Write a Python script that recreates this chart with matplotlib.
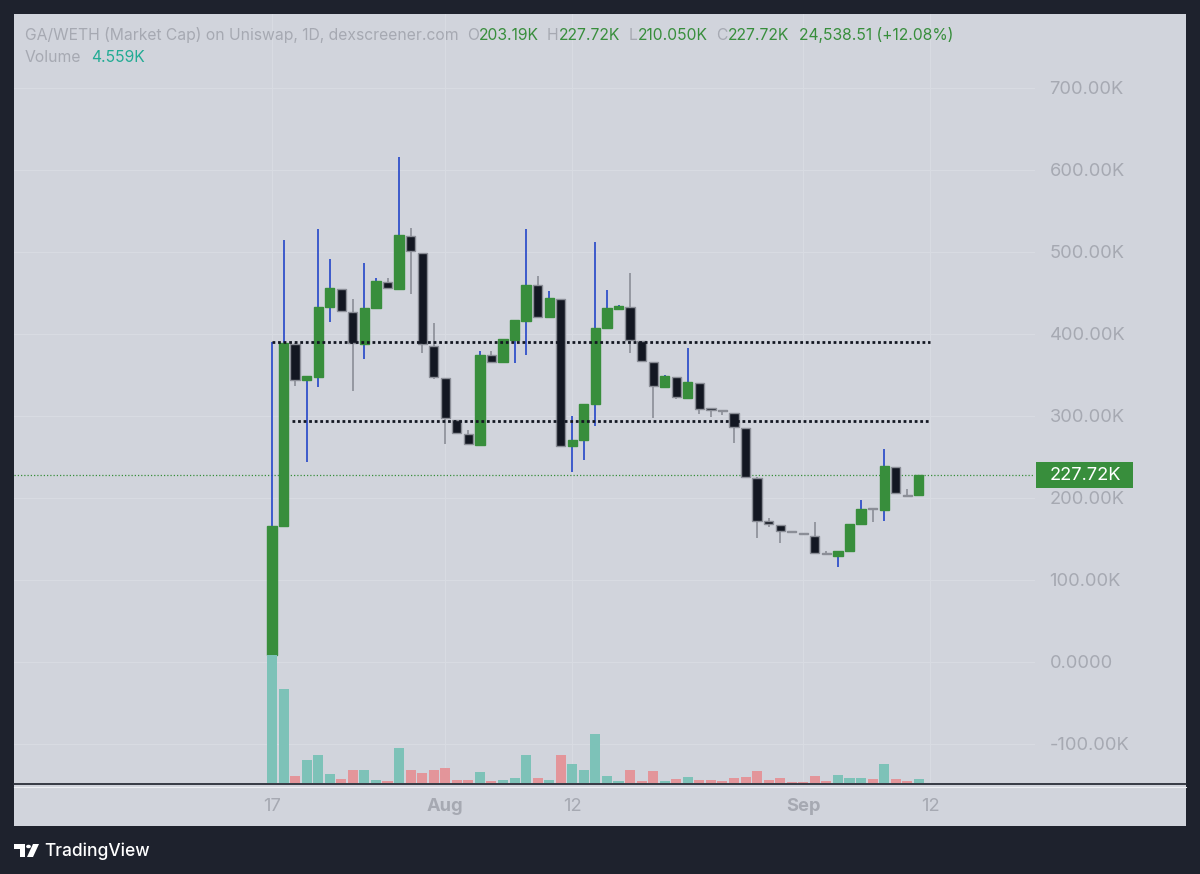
import matplotlib
matplotlib.use('Agg')
import matplotlib.pyplot as plt
from matplotlib.patches import Rectangle, Circle, Polygon
from matplotlib.lines import Line2D

# ---------------- data (values in thousands, market cap) ----------------
day_labels_idx = [0, 15, 26, 46, 57]
day_labels = ['17', 'Aug', '12', 'Sep', '12']

opens = [8.5, 166.0, 387.8, 343.9, 348.0, 433.3, 455.2, 426.8, 387.8, 432.0,
         463.8, 454.5, 519.9, 498.4, 385.7, 346.7, 295.1, 277.7, 264.6, 374.0,
         365.5, 392.7, 416.2, 459.4, 420.4, 443.0, 263.4, 270.7, 315.0, 407.0,
         431.0, 432.6, 391.5, 365.5, 335.7, 347.9, 322.3, 339.9, 308.2, 306.7,
         303.3, 285.7, 224.8, 172.0, 167.0, 158.2, 155.9, 154.0, 131.5, 129.6,
         135.4, 167.9, 186.8, 185.4, 238.2, 203.0, 203.19]
highs = [390.2, 514.6, 388.5, 349.0, 527.7, 491.5, 455.2, 442.3, 487.0, 468.0,
         468.0, 616.2, 529.6, 498.4, 413.8, 346.7, 295.1, 283.0, 379.3, 379.0,
         393.5, 416.7, 527.7, 470.7, 452.4, 443.0, 300.0, 315.0, 512.6, 453.7,
         435.0, 474.0, 391.5, 365.5, 350.6, 347.9, 383.3, 339.9, 308.6, 307.0,
         303.3, 285.7, 226.0, 175.2, 167.0, 158.4, 156.1, 171.1, 135.4, 135.4,
         168.3, 197.6, 186.9, 259.8, 238.2, 210.6, 227.72]
lows = [8.5, 166.0, 336.6, 244.0, 335.0, 414.3, 428.4, 330.9, 369.5, 432.0,
        455.7, 454.5, 448.8, 377.2, 344.8, 265.9, 278.9, 265.5, 264.6, 366.2,
        365.5, 365.0, 374.4, 419.1, 420.4, 263.8, 231.3, 246.3, 288.2, 407.0,
        431.0, 376.5, 367.4, 297.2, 335.7, 320.7, 322.3, 302.1, 299.2, 301.2,
        266.7, 226.0, 151.6, 165.0, 144.8, 157.8, 155.5, 132.6, 131.3, 115.5,
        135.4, 167.9, 170.4, 172.0, 205.7, 202.8, 203.19]
closes = [166.0, 389.4, 343.9, 348.8, 433.3, 456.5, 428.4, 388.7, 432.0, 465.0,
          455.7, 520.7, 501.2, 387.8, 348.0, 297.2, 278.9, 265.5, 374.4, 366.2,
          393.5, 416.7, 460.1, 421.1, 444.3, 263.8, 270.7, 315.0, 407.7, 431.3,
          434.0, 392.7, 367.4, 336.6, 349.1, 323.5, 341.1, 308.2, 307.8, 306.4,
          287.0, 226.0, 172.3, 168.3, 159.8, 158.0, 155.7, 132.6, 131.3, 135.4,
          168.3, 186.2, 186.6, 239.0, 205.7, 202.8, 227.72]
volumes = [146.3, 107.5, 7.6, 25.9, 31.6, 10.6, 4.6, 14.5, 15.2, 3.8,
           2.6, 39.6, 15.2, 11.4, 15.2, 16.8, 3.1, 3.1, 12.5, 1.9,
           3.8, 6.0, 31.9, 6.0, 3.8, 31.9, 21.3, 15.2, 55.5, 8.3,
           1.9, 14.5, 2.3, 13.7, 2.3, 4.6, 6.8, 3.8, 3.1, 1.9,
           5.4, 6.8, 13.7, 3.8, 5.4, 1.5, 1.5, 7.6, 2.6, 9.1,
           6.0, 6.0, 4.6, 22.0, 4.6, 2.6, 4.559]

ray_levels = [390.2, 293.9]
ray_starts = [0.0, 1.7]
ray_end = 57.0
last_price = 227.72

price_ticks = [-100, 0, 100, 200, 300, 400, 500, 600, 700]
price_tick_labels = ['-100.00K', '0.0000', '100.00K', '200.00K', '300.00K',
                     '400.00K', '500.00K', '600.00K', '700.00K']

title_text = 'GA/WETH (Market Cap) on Uniswap, 1D, dexscreener.com'
ohlc_keys = ['O', 'H', 'L', 'C']
ohlc_vals = ['203.19K', '227.72K', '210.050K', '227.72K']
change_text = '24,538.51 (+12.08%)'
volume_text = '4.559K'
last_price_text = '227.72K'

# ---------------- style ----------------
BG_DARK = '#1e222d'
PANEL = '#d1d4dc'
GRID = '#d8dbe2'
TXT = '#a6a9b2'
GREEN = '#388e3c'
BLACK_BODY = '#131722'
BLACK_EDGE = '#8b8e97'
BLUE_WICK = '#2446c8'
VOL_UP = '#7dc2b8'
VOL_DOWN = '#e3959a'
TEAL_TXT = '#22ab94'

plt.rcParams['font.family'] = ['Inter', 'DejaVu Sans']

W, H = 1200, 874
fig = plt.figure(figsize=(12, 8.74), dpi=100)
fig.patch.set_facecolor(BG_DARK)
renderer = fig.canvas.get_renderer()


def fx(x):
    return x / W


def fy(y):
    return 1 - y / H


def text_w(t):
    return t.get_window_extent(renderer=renderer).width


fig.patches.append(Rectangle((fx(14), fy(826)), (1186 - 14) / W, (826 - 14) / H,
                             transform=fig.transFigure, facecolor=PANEL,
                             edgecolor='none', zorder=0))

# axes geometry
X0_PX, DAY_PX = 272.0, 11.55
L_PX, R_PX, T_PX, B_PX = 14, 1035, 14, 783
xlim = ((L_PX - X0_PX) / DAY_PX, (R_PX - X0_PX) / DAY_PX)
ylim = ((662 - B_PX) / 0.82, (662 - T_PX) / 0.82)
rect = [fx(L_PX), fy(B_PX), (R_PX - L_PX) / W, (B_PX - T_PX) / H]

ax = fig.add_axes(rect, zorder=1)
vax = fig.add_axes(rect, zorder=2)
for a in (ax, vax):
    a.set_facecolor('none')
    for s in a.spines.values():
        s.set_visible(False)

n = len(opens)
xs = list(range(n))
up = [c >= o for o, c in zip(opens, closes)]

# volume
vax.bar(xs, volumes, width=0.87, color=[VOL_UP if u else VOL_DOWN for u in up],
        linewidth=0)
vax.set_xlim(*xlim)
vax.set_ylim(0, (B_PX - T_PX) * 1.14)
vax.axis('off')

# axes, ticks, grid
AXFS = 13.2
ax.set_xlim(*xlim)
ax.set_ylim(*ylim)
ax.set_yticks(price_ticks)
ax.set_yticklabels(price_tick_labels)
ax.set_xticks(day_labels_idx)
ax.set_xticklabels(day_labels)
ax.grid(True, color=GRID, linewidth=0.8, zorder=0)
ax.set_axisbelow(True)
ax.yaxis.tick_right()
ax.tick_params(axis='y', length=0, pad=10.5, labelsize=AXFS, labelcolor=TXT)
ax.tick_params(axis='x', length=0, pad=11, labelsize=AXFS, labelcolor=TXT)
for lbl in ax.get_xticklabels():
    if lbl.get_text() in ('Aug', 'Sep'):
        lbl.set_fontweight('bold')

# current price line
ax.axhline(last_price, color=GREEN, lw=0.9, ls=(0, (1, 1.6)), zorder=1.5)

# wicks
ax.vlines(xs, lows, highs, colors=[BLUE_WICK if u else BLACK_EDGE for u in up],
          lw=1.2, zorder=2)
# bodies
min_h = 1.4
bottoms = [min(o, c) for o, c in zip(opens, closes)]
heights = [max(abs(c - o), min_h) for o, c in zip(opens, closes)]
ax.bar(xs, heights, bottom=bottoms, width=0.8,
       color=[GREEN if u else BLACK_BODY for u in up],
       edgecolor=[GREEN if u else BLACK_EDGE for u in up], linewidth=1.0, zorder=3)

# horizontal rays
ax.hlines(ray_levels, ray_starts, ray_end, colors='#131722', lw=2.0,
          linestyles=(0, (1, 1)), zorder=4)

# last price label box
ydisp = ax.transData.transform((0, last_price))[1]
fig.patches.append(Rectangle((fx(1036), (ydisp - 13) / H), 97 / W, 26 / H,
                             transform=fig.transFigure, facecolor=GREEN,
                             edgecolor='none', zorder=5))
fig.text(fx(1085), ydisp / H, last_price_text, color='white', fontsize=AXFS,
         ha='center', va='center', zorder=6)

# bottom axis line
fig.add_artist(Line2D([fx(14), fx(1186)], [fy(783.5)] * 2, color='#2a2e39', lw=1.3))
fig.add_artist(Line2D([fx(14), fx(1186)], [fy(786.5)] * 2, color='#eef0f4', lw=0.8))

# header (laid out sequentially, sized to the reference title width)
HFS = 10.8
t = fig.text(fx(25), fy(35), title_text, color=TXT, fontsize=HFS, va='center')
HFS = HFS * 434.0 / text_w(t)
t.set_fontsize(HFS)
x = 25 + text_w(t) + 8
for k, v in zip(ohlc_keys, ohlc_vals):
    tk = fig.text(fx(x), fy(35), k, color=TXT, fontsize=HFS, va='center')
    x += text_w(tk) + 0.5
    tv = fig.text(fx(x), fy(35), v, color=GREEN, fontsize=HFS, va='center')
    x += text_w(tv) + 8
fig.text(fx(x + 2), fy(35), change_text, color=GREEN, fontsize=HFS, va='center')
tvol = fig.text(fx(25), fy(57), 'Volume', color=TXT, fontsize=HFS, va='center')
fig.text(fx(25 + text_w(tvol) + 10), fy(57), volume_text, color=TEAL_TXT,
         fontsize=HFS, va='center')

# TradingView logo
fig.patches.append(Polygon([[fx(14), fy(844)], [fx(25), fy(844)], [fx(25), fy(857)],
                            [fx(20), fy(857)], [fx(20), fy(849)], [fx(14), fy(849)]],
                           closed=True, transform=fig.transFigure, facecolor='white',
                           edgecolor='none'))
fig.patches.append(Circle((fx(28.5), fy(846.5)), 2.4 / W, transform=fig.transFigure,
                          facecolor='white', edgecolor='none'))
fig.patches.append(Polygon([[fx(27), fy(857)], [fx(33), fy(844)], [fx(39), fy(844)],
                            [fx(33), fy(857)]], closed=True, transform=fig.transFigure,
                           facecolor='white', edgecolor='none'))
fig.text(fx(44), fy(851), 'TradingView', color='white', fontsize=12.5, va='center',
         fontweight='medium')

fig.savefig('out.png', dpi=100, facecolor=BG_DARK)
